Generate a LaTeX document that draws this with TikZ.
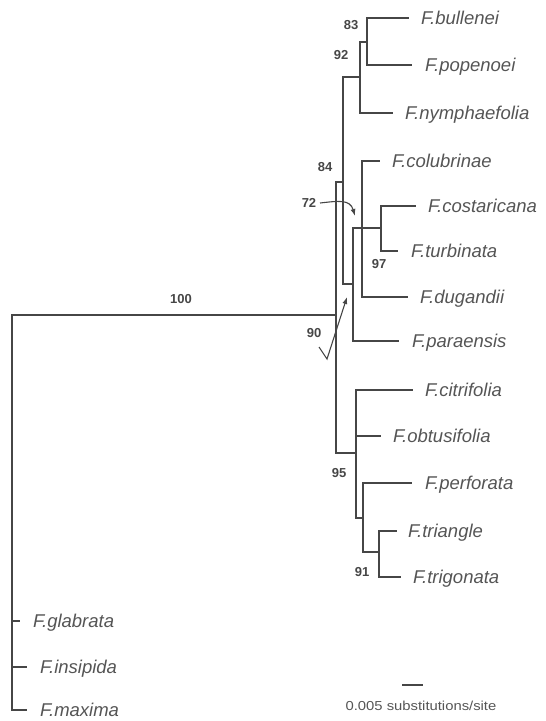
\documentclass[tikz,border=0pt]{standalone}
\usepackage{fontspec}
\setmainfont{Liberation Sans}
\usetikzlibrary{arrows.meta}
\definecolor{ink}{RGB}{70,70,70}
\definecolor{txt}{RGB}{85,85,85}
\tikzset{
  br/.style={draw=ink, line width=2.1pt, line cap=rect},
  lab/.style={anchor=west, inner sep=0pt, text=txt, text height=13pt, text depth=0pt,
    font=\itshape\fontsize{18.5}{20}\selectfont},
  sup/.style={inner sep=0pt, text=ink, text height=9.5pt, text depth=0pt,
    font=\bfseries\fontsize{13}{15}\selectfont},
  arr/.style={draw=ink, line width=1.1pt, -{Latex[length=7pt,width=5pt]}},
}
\begin{document}
\begin{tikzpicture}[x=1pt,y=-1pt]
\useasboundingbox (0,0) rectangle (546,721);
% internal nodes
\coordinate (R) at (12,315);
\coordinate (N336) at (336,315);
\coordinate (N343) at (343,182);
\coordinate (N360) at (360,77);
\coordinate (N367) at (367,42);
\coordinate (N353) at (353,284);
\coordinate (N362) at (362,228);
\coordinate (N381) at (381,228);
\coordinate (N356) at (356,453);
\coordinate (N363) at (363,518);
\coordinate (N379) at (379,552);
% leaves
\coordinate (bul) at (408,18);
\coordinate (pop) at (411,65);
\coordinate (nym) at (392,113);
\coordinate (col) at (379,161);
\coordinate (cos) at (415,206);
\coordinate (tur) at (397,251);
\coordinate (dug) at (407,297);
\coordinate (par) at (398,341);
\coordinate (cit) at (412,390);
\coordinate (obt) at (380,436);
\coordinate (per) at (411,483);
\coordinate (tra) at (396,531);
\coordinate (trg) at (400,577);
\coordinate (gla) at (19,621);
\coordinate (ins) at (26,667);
\coordinate (max) at (26,710);
% branches
\draw[br] (R) -- (N336);
\draw[br] (R) |- (gla);
\draw[br] (R) |- (ins);
\draw[br] (R) |- (max);
\draw[br] (N336) |- (N343);
\draw[br] (N336) |- (N356);
\draw[br] (N343) |- (N360);
\draw[br] (N343) |- (N353);
\draw[br] (N360) |- (N367);
\draw[br] (N360) |- (nym);
\draw[br] (N367) |- (bul);
\draw[br] (N367) |- (pop);
\draw[br] (N353) |- (N362);
\draw[br] (N353) |- (par);
\draw[br] (N362) |- (col);
\draw[br] (N362) -- (N381);
\draw[br] (N362) |- (dug);
\draw[br] (N381) |- (cos);
\draw[br] (N381) |- (tur);
\draw[br] (N356) |- (cit);
\draw[br] (N356) |- (obt);
\draw[br] (N356) |- (N363);
\draw[br] (N363) |- (per);
\draw[br] (N363) |- (N379);
\draw[br] (N379) |- (tra);
\draw[br] (N379) |- (trg);
% leaf labels
\node[lab] (Lbul) at ([xshift=13pt]bul) {F.bullenei};
\node[lab] (Lpop) at ([xshift=14pt]pop) {F.popenoei};
\node[lab] (Lnym) at ([xshift=13pt]nym) {F.nymphaefolia};
\node[lab] (Lcol) at ([xshift=13pt]col) {F.colubrinae};
\node[lab] (Lcos) at ([xshift=13pt]cos) {F.costaricana};
\node[lab] (Ltur) at ([xshift=14pt]tur) {F.turbinata};
\node[lab] (Ldug) at ([xshift=13pt]dug) {F.dugandii};
\node[lab] (Lpar) at ([xshift=14pt]par) {F.paraensis};
\node[lab] (Lcit) at ([xshift=13pt]cit) {F.citrifolia};
\node[lab] (Lobt) at ([xshift=13pt]obt) {F.obtusifolia};
\node[lab] (Lper) at ([xshift=14pt]per) {F.perforata};
\node[lab] (Ltra) at ([xshift=12pt]tra) {F.triangle};
\node[lab] (Ltrg) at ([xshift=13pt]trg) {F.trigonata};
\node[lab] (Lgla) at ([xshift=14pt]gla) {F.glabrata};
\node[lab] (Lins) at ([xshift=14pt]ins) {F.insipida};
\node[lab] (Lmax) at ([xshift=14pt]max) {F.maxima};
% support values
\node[sup] (s100) at (181,299) {100};
\node[sup] (s83) at (351,25) {83};
\node[sup] (s92) at (341,55) {92};
\node[sup] (s84) at (325,167) {84};
\node[sup] (s72) at (309,203) {72};
\node[sup] (s97) at (379,264) {97};
\node[sup] (s90) at (314,333) {90};
\node[sup] (s95) at (339,473) {95};
\node[sup] (s91) at (362,572) {91};
% pointer arrows
\coordinate (a72s) at (320,203);
\coordinate (a72e) at (355,216);
\draw[arr] (a72s) .. controls (338,201) and (350,199) .. (a72e);
\coordinate (a90a) at (319,347);
\coordinate (a90b) at (327,359);
\coordinate (a90e) at (347,297);
\draw[arr] (a90a) -- (a90b) -- (a90e);
% scale bar
\coordinate (sb1) at (402,685);
\coordinate (sb2) at (423,685);
\draw[draw=ink, line width=2.1pt] (sb1) -- (sb2);
\node[inner sep=0pt, text=txt, font=\fontsize{13}{15}\selectfont] (sbl) at (421,706) {\scalebox{1.14}[1]{0.005 substitutions/site}};
\end{tikzpicture}
\end{document}
